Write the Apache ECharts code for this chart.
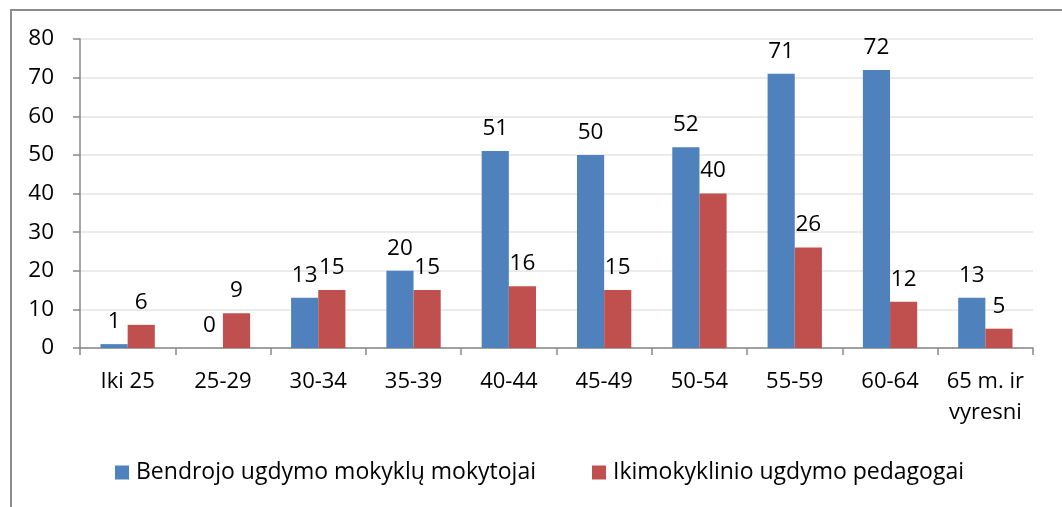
<!DOCTYPE html>
<html>
<head>
<meta charset="utf-8">
<script src="https://cdn.jsdelivr.net/npm/echarts@6/dist/echarts.min.js"></script>
<style>
html, body { margin: 0; padding: 0; background: #fff; }
#chart { width: 1062px; height: 507px; }
</style>
</head>
<body>
<div id="chart"></div>
<script>
// amžiaus grupės
var categories = ['Iki 25', '25-29', '30-34', '35-39', '40-44', '45-49', '50-54', '55-59', '60-64', '65 m. ir\nvyresni'];
var bendrojo = [1, 0, 13, 20, 51, 50, 52, 71, 72, 13];
var ikimokyklinio = [6, 9, 15, 15, 16, 15, 40, 26, 12, 5];
var seriesNames = ['Bendrojo ugdymo mokyklų mokytojai', 'Ikimokyklinio ugdymo pedagogai'];

var myChart = echarts.init(document.getElementById('chart'));
var font = 'Open Sans';

var legendBase = {
    orient: 'horizontal',
    bottom: 18,
    itemWidth: 14,
    itemHeight: 14,
    icon: 'rect',
    textStyle: { fontFamily: font, fontSize: 23, color: '#000', padding: [0, 0, 0, 2] }
};

var option = {
    animation: false,
    textStyle: { fontFamily: font },
    graphic: [{
        type: 'rect',
        shape: { x: 11, y: 10, width: 1100, height: 600 },
        style: { fill: 'none', stroke: '#8c8c8c', lineWidth: 2 },
        silent: true
    }],
    grid: { left: 80, right: 29, top: 39, bottom: 159, containLabel: false },
    legend: [
        Object.assign({}, legendBase, { data: [seriesNames[0]], left: 110 }),
        Object.assign({}, legendBase, { data: [seriesNames[1]], left: 587 })
    ],
    xAxis: {
        type: 'category',
        data: categories,
        axisLine: { lineStyle: { color: '#888', width: 1.5 } },
        axisTick: { show: true, length: 7, lineStyle: { color: '#888', width: 1.5 } },
        axisLabel: { fontFamily: font, fontSize: 22, color: '#000', margin: 18, lineHeight: 31, interval: 0 }
    },
    yAxis: {
        type: 'value',
        min: 0,
        max: 80,
        interval: 10,
        axisLine: { show: true, lineStyle: { color: '#888', width: 1.5 } },
        axisTick: { show: true, length: 7, lineStyle: { color: '#888', width: 1.5 } },
        axisLabel: { fontFamily: font, fontSize: 22.5, color: '#000', margin: 26 },
        splitLine: { lineStyle: { color: '#ebebeb', width: 2 } }
    },
    series: [{
        name: seriesNames[0],
        type: 'bar',
        data: bendrojo,
        barGap: '0%',
        barCategoryGap: '43%',
        itemStyle: { color: '#4F81BD' },
        label: { show: true, position: 'top', distance: 11, fontFamily: font, fontSize: 22.5, color: '#000' }
    }, {
        name: seriesNames[1],
        type: 'bar',
        data: ikimokyklinio,
        barGap: '0%',
        barCategoryGap: '43%',
        itemStyle: { color: '#C0504D' },
        label: { show: true, position: 'top', distance: 11, fontFamily: font, fontSize: 22.5, color: '#000' }
    }]
};

myChart.setOption(option);
</script>
</body>
</html>
